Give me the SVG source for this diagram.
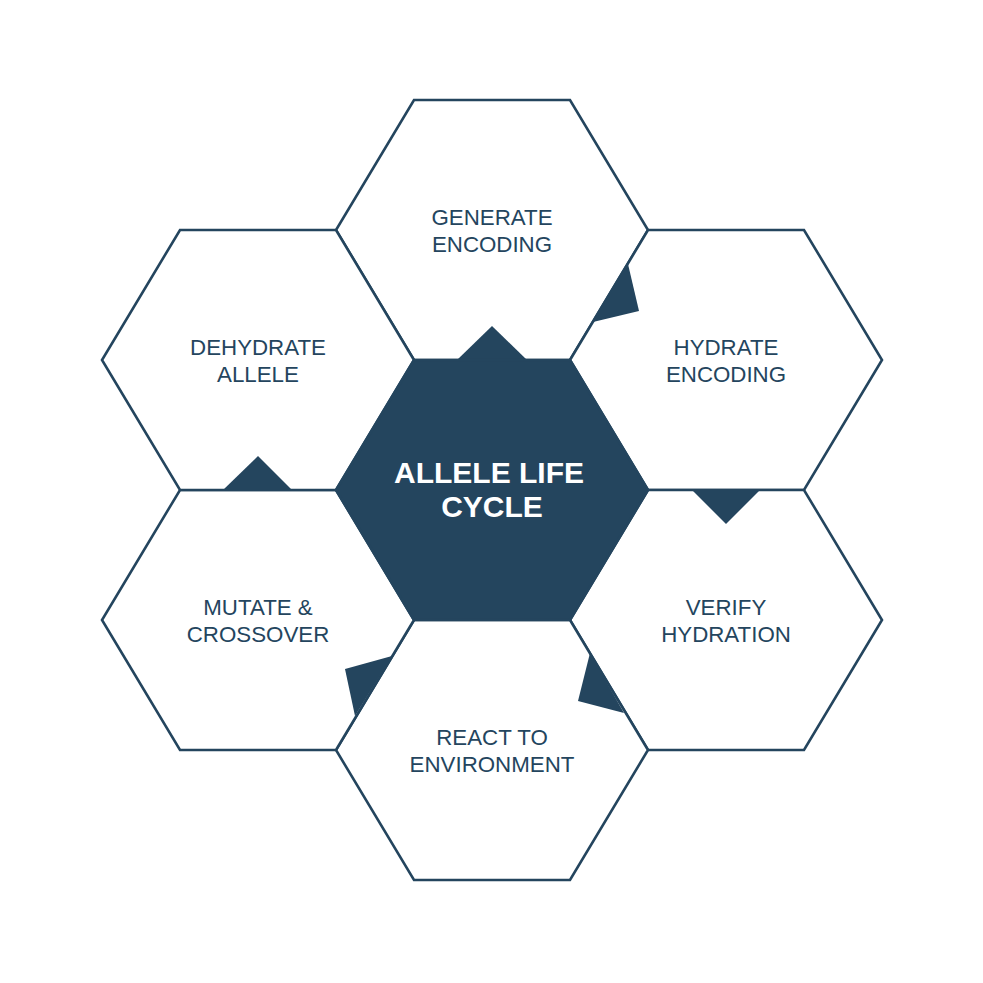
<svg xmlns="http://www.w3.org/2000/svg" width="983" height="983" viewBox="0 0 983 983">
<style>
.hex{fill:#ffffff;stroke:#24455e;stroke-width:2.6;stroke-linejoin:miter}
.core{fill:#24455e;stroke:#24455e;stroke-width:2.6}
.lbl{font-family:"Liberation Sans",Arial,Helvetica,sans-serif;font-size:22.3px;fill:#24455e;text-anchor:middle}
.ctr{font-family:"Liberation Sans",Arial,Helvetica,sans-serif;font-size:30px;font-weight:bold;fill:#ffffff;text-anchor:middle}
.notch{fill:#24455e}
</style>
<rect width="983" height="983" fill="#ffffff"/>
<g id="node-generate">
<polygon class="hex" points="414,100 570,100 648,230 570,360 414,360 336,230"/>
<text class="lbl" x="492" y="225">GENERATE</text>
<text class="lbl" x="492" y="252">ENCODING</text>
</g>
<g id="node-hydrate">
<polygon class="hex" points="648,230 804,230 882,360 804,490 648,490 570,360"/>
<text class="lbl" x="726" y="355">HYDRATE</text>
<text class="lbl" x="726" y="382">ENCODING</text>
</g>
<g id="node-verify">
<polygon class="hex" points="648,490 804,490 882,620 804,750 648,750 570,620"/>
<text class="lbl" x="726" y="615">VERIFY</text>
<text class="lbl" x="726" y="642">HYDRATION</text>
</g>
<g id="node-react">
<polygon class="hex" points="414,620 570,620 648,750 570,880 414,880 336,750"/>
<text class="lbl" x="492" y="745">REACT TO</text>
<text class="lbl" x="492" y="772">ENVIRONMENT</text>
</g>
<g id="node-mutate">
<polygon class="hex" points="180,490 336,490 414,620 336,750 180,750 102,620"/>
<text class="lbl" x="258" y="615">MUTATE &amp;</text>
<text class="lbl" x="258" y="642">CROSSOVER</text>
</g>
<g id="node-dehydrate">
<polygon class="hex" points="180,230 336,230 414,360 336,490 180,490 102,360"/>
<text class="lbl" x="258" y="355">DEHYDRATE</text>
<text class="lbl" x="258" y="382">ALLELE</text>
</g>
<g id="connectors">
<polygon class="notch" points="457,360 527,360 492,326"/>
<polygon class="notch" points="628,264 593,322 639,311"/>
<polygon class="notch" points="692,490 760,490 726,524"/>
<polygon class="notch" points="590,653 624,713 578,701"/>
<polygon class="notch" points="392,656 355,716 345,669"/>
<polygon class="notch" points="223,490 292,490 258,456"/>
</g>
<g id="node-center">
<polygon class="core" points="414,360 570,360 648,490 570,620 414,620 336,490"/>
<text class="ctr" x="489" y="483">ALLELE LIFE</text>
<text class="ctr" x="492" y="517">CYCLE</text>
</g>
</svg>
